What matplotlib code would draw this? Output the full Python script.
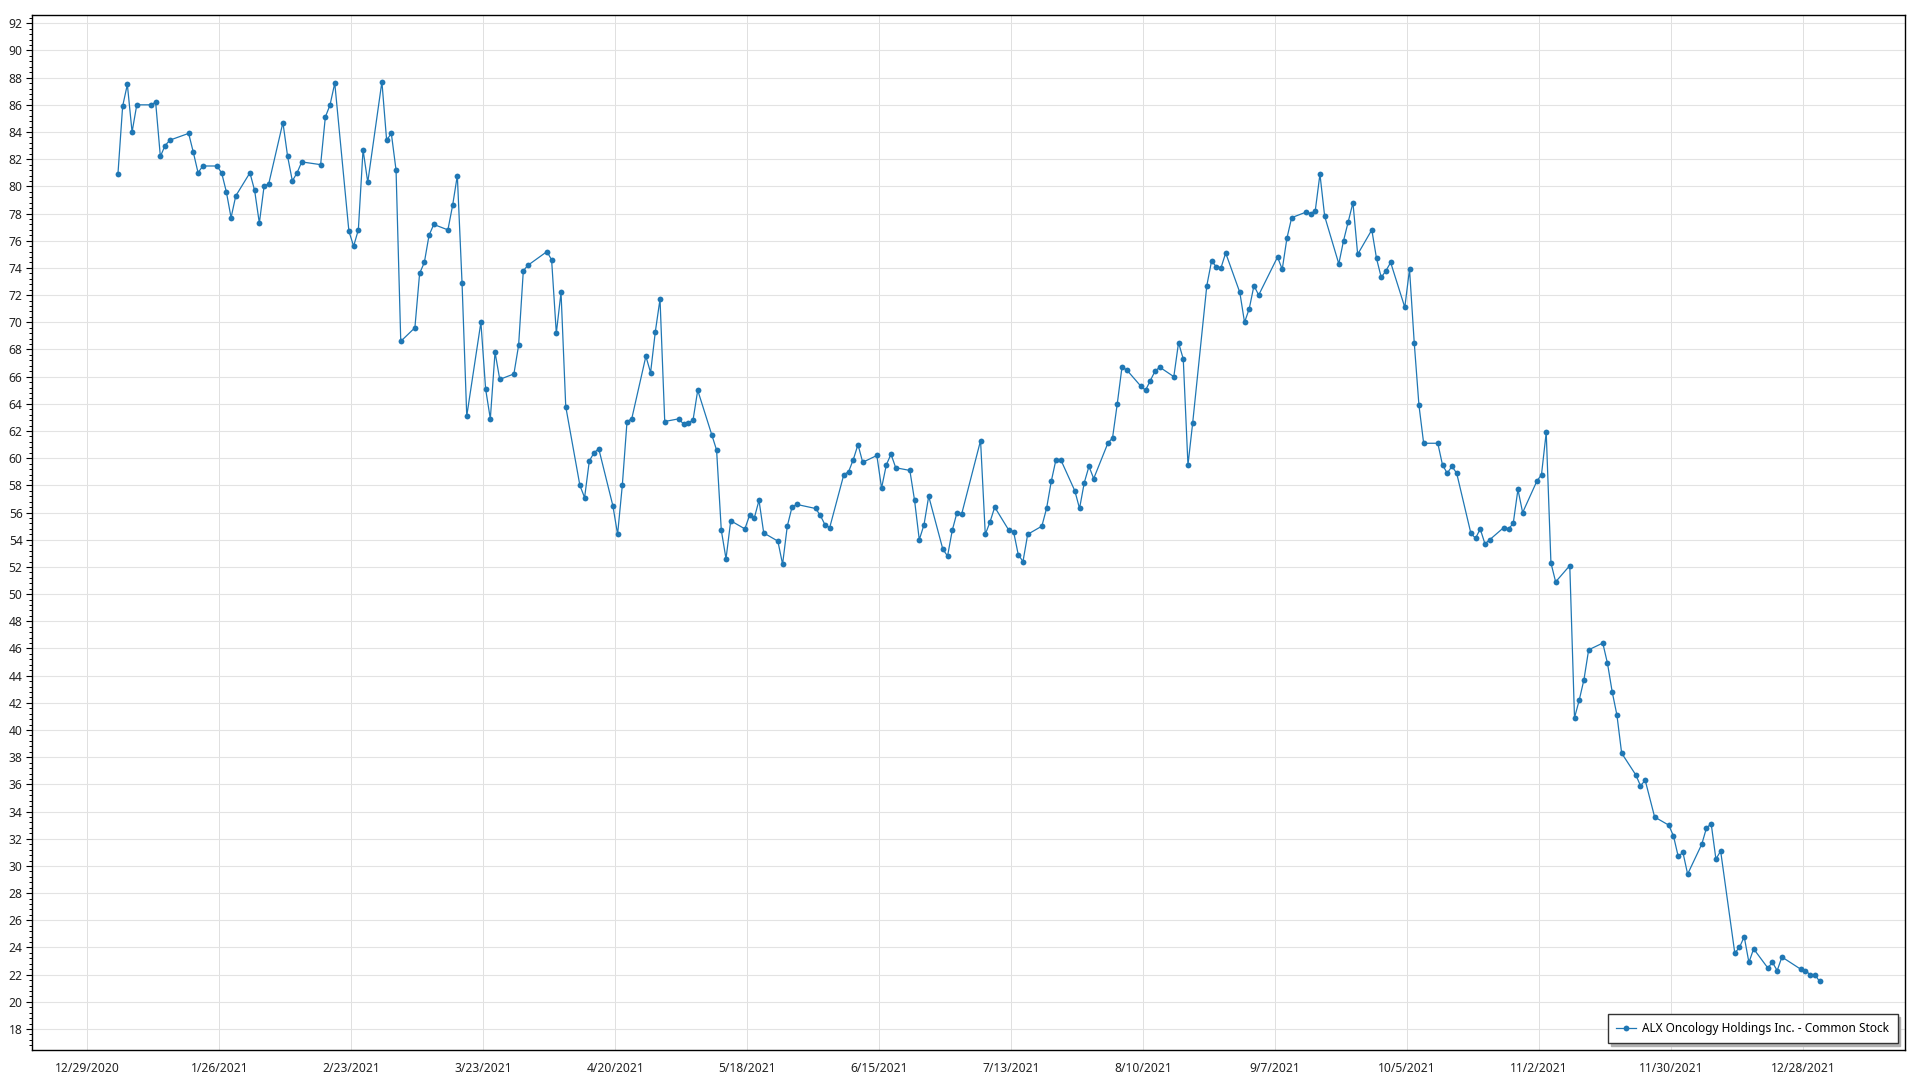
import matplotlib
matplotlib.use('Agg')
import matplotlib.pyplot as plt
import matplotlib.dates as mdates
from matplotlib.ticker import MultipleLocator, FuncFormatter
import pandas as pd
import numpy as np

plt.rcParams['font.family'] = ['Noto Sans', 'DejaVu Sans']

SERIES_NAME = 'ALX Oncology Holdings Inc. - Common Stock'
LINE_COLOR = '#1f77b4'

# NYSE closed days in 2021 (weekdays)
HOLIDAYS = ['2021-01-01', '2021-01-18', '2021-02-15', '2021-04-02', '2021-05-31',
            '2021-07-05', '2021-09-06', '2021-11-25', '2021-12-24']

# closing prices, one list per month
jan = [80.9, 85.9, 87.5, 84.0, 86.0, 86.0, 86.2, 82.2, 83.0, 83.4,
       83.9, 82.5, 81.0, 81.5, 81.5, 81.0, 79.6, 77.7, 79.3]
feb = [81.0, 79.7, 77.3, 80.0, 80.2, 84.7, 82.2, 80.4, 81.0, 81.8,
       81.6, 85.1, 86.0, 87.6, 76.7, 75.6, 76.8, 82.7, 80.3]
mar = [87.7, 83.4, 83.9, 81.2, 68.6, 69.6, 73.6, 74.4, 76.4, 77.2,
       76.8, 78.6, 80.8, 72.9, 63.1, 70.0, 65.1, 62.9, 67.8, 65.8,
       66.2, 68.3, 73.8]
apr = [74.2, 75.2, 74.6, 69.2, 72.2, 63.8, 58.0, 57.1, 59.8, 60.4,
       60.7, 56.5, 54.4, 58.0, 62.7, 62.9, 67.5, 66.3, 69.3, 71.7, 62.7]
may = [62.9, 62.5, 62.6, 62.8, 65.0, 61.7, 60.6, 54.7, 52.6, 55.4,
       54.8, 55.8, 55.6, 56.9, 54.5, 53.9, 52.2, 55.0, 56.4, 56.6]
jun = [56.3, 55.8, 55.1, 54.9, 58.8, 59.0, 59.9, 61.0, 59.7, 60.2,
       57.8, 59.5, 60.3, 59.3, 59.1, 56.9, 54.0, 55.1, 57.2, 53.3,
       52.8, 54.7]
jul = [56.0, 55.9, 61.3, 54.4, 55.3, 56.4, 54.7, 54.6, 52.9, 52.4,
       54.4, 55.0, 56.3, 58.3, 59.9, 59.9, 57.6, 56.3, 58.2, 59.4, 58.5]
aug = [61.1, 61.5, 64.0, 66.7, 66.5, 65.3, 65.0, 65.7, 66.4, 66.7,
       66.0, 68.5, 67.3, 59.5, 62.6, 72.7, 74.5, 74.1, 74.0, 75.1,
       72.2, 70.0]
sep = [71.0, 72.7, 72.0, 74.8, 73.9, 76.2, 77.7, 78.1, 78.0, 78.2,
       80.9, 77.8, 74.3, 76.0, 77.4, 78.8, 75.0, 76.8, 74.7, 73.3, 73.8]
oct_ = [74.4, 71.1, 73.9, 68.5, 63.9, 61.1, 61.1, 59.5, 58.9, 59.4,
        58.9, 54.5, 54.1, 54.8, 53.7, 54.0, 54.9, 54.8, 55.2, 57.7, 56.0]
nov = [58.3, 58.8, 61.9, 52.3, 50.9, 52.1, 40.9, 42.2, 43.7, 45.9,
       46.4, 44.9, 42.8, 41.1, 38.3, 36.7, 35.9, 36.3, 33.6, 33.0, 32.2]
dec = [30.7, 31.0, 29.4, 31.6, 32.8, 33.1, 30.5, 31.1, 23.6, 24.0,
       24.8, 22.9, 23.9, 22.5, 22.9, 22.3, 23.3, 22.4, 22.3, 22.0,
       22.0, 21.5]

prices = jan + feb + mar + apr + may + jun + jul + aug + sep + oct_ + nov + dec
dates = pd.bdate_range('2021-01-04', '2021-12-31', freq='C', holidays=HOLIDAYS) + pd.Timedelta(hours=12)
df = pd.DataFrame({'date': dates[:len(prices)], 'close': prices})

fig = plt.figure(figsize=(19.2, 10.8), dpi=100)
ax = fig.add_axes([0.01682, 0.02806, 0.9755, 0.9578])

ax.plot(df['date'], df['close'], color=LINE_COLOR, linewidth=0.9,
        marker='o', markersize=4.2, markeredgewidth=0, label=SERIES_NAME, zorder=3)

# axes ranges
ax.set_xlim(pd.Timestamp('2020-12-17 08:00'), pd.Timestamp('2022-01-18 16:00'))
ax.set_ylim(16.48, 92.59)

# x ticks every 28 days from 12/29/2020
xticks = pd.date_range('2020-12-29', '2021-12-28', freq='28D')
ax.set_xticks(xticks)
ax.xaxis.set_major_formatter(FuncFormatter(
    lambda v, pos: '{d.month}/{d.day}/{d.year}'.format(d=mdates.num2date(v))))
ax.tick_params(axis='x', length=0, pad=9, labelsize=8.7, colors='#222222')

ax.yaxis.set_major_locator(MultipleLocator(2))
ax.yaxis.set_minor_locator(MultipleLocator(0.4))
ax.tick_params(axis='y', which='major', length=4, width=0.8, pad=3, labelsize=8.7, colors='#222222')
ax.tick_params(axis='y', which='minor', length=2, width=0.7, colors='#222222')
ax.tick_params(axis='y', which='both', color='black')

ax.grid(True, axis='y', color='#e3e3e3', linewidth=0.8, zorder=0)
ax.grid(True, axis='x', color='#e0e0e0', linewidth=0.7, zorder=0)
ax.set_axisbelow(True)

for spine in ax.spines.values():
    spine.set_color('black')
    spine.set_linewidth(1.0)

leg = ax.legend(loc='lower right', fontsize=8.5, frameon=True, fancybox=False,
                shadow={'color': '#b0b0b0', 'alpha': 1}, borderpad=0.7,
                borderaxespad=0, handlelength=1.7, handletextpad=0.5,
                bbox_to_anchor=(0.9959, 0.0062))
leg.get_frame().set_edgecolor('#333333')
leg.get_frame().set_linewidth(1.0)

fig.savefig('out.png', dpi=100)
